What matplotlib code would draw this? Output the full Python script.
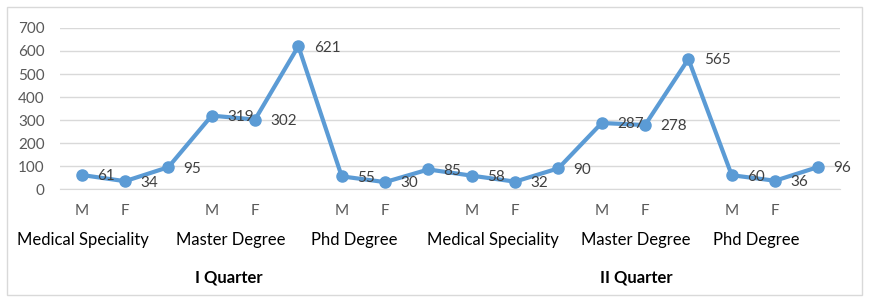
import matplotlib.pyplot as plt
from matplotlib import transforms
from matplotlib.patches import Rectangle

# ---------------------------------------------------------
# data
# ---------------------------------------------------------
values = [61, 34, 95, 319, 302, 621, 55, 30, 85,
          58, 32, 90, 287, 278, 565, 60, 36, 96]
sex_labels = ["M", "F", "", "M", "F", "", "M", "F", "",
              "M", "F", "", "M", "F", "", "M", "F", ""]
degrees = ["Medical Speciality", "Master Degree", "Phd Degree",
           "Medical Speciality", "Master Degree", "Phd Degree"]
quarters = ["I Quarter", "II Quarter"]
y_ticks = [0, 100, 200, 300, 400, 500, 600, 700]

# label positions (category units)
degree_pos = [0.03, 3.45, 6.28, 9.49, 12.79, 15.56]
quarter_pos = [3.4, 12.79]

plt.rcParams['font.family'] = ['Lato', 'DejaVu Sans']

fig = plt.figure(figsize=(8.7, 3.03), dpi=100)
ax = fig.add_axes([0.069, 0.3762, 0.8966, 0.5314])

x = list(range(len(values)))
ax.plot(x, values, color='#5B9BD5', linewidth=3, marker='o',
        markersize=8, zorder=3)

for xi, v in zip(x, values):
    ax.annotate(str(v), (xi, v), xytext=(11, -1), textcoords='offset points',
                ha='left', va='center', fontsize=11, color='#404040', zorder=4)

ax.set_xlim(-0.5, len(values) - 0.5)
ax.set_ylim(0, 700)
ax.set_yticks(y_ticks)
ax.set_xticks([])
ax.tick_params(axis='y', length=0, pad=11, labelsize=11, labelcolor='#595959')
ax.grid(axis='y', color='#D9D9D9', linewidth=1)
ax.set_axisbelow(True)
for s in ['top', 'right', 'left']:
    ax.spines[s].set_visible(False)
ax.spines['bottom'].set_color('#D9D9D9')

# multi-level category labels
tr = transforms.blended_transform_factory(ax.transData, fig.transFigure)
for xi, lab in zip(x, sex_labels):
    if lab:
        ax.text(xi, 0.3036, lab, transform=tr, ha='center', va='center',
                fontsize=11, color='#595959')
for xp, lab in zip(degree_pos, degrees):
    ax.text(xp, 0.208, lab, transform=tr, ha='center', va='center',
            fontsize=12, color='black')
for xp, lab in zip(quarter_pos, quarters):
    ax.text(xp, 0.0858, lab, transform=tr, ha='center', va='center',
            fontsize=12, fontweight='bold', color='black')

# chart border
fig.patches.append(Rectangle((7 / 870, 8 / 303), 855 / 870, 288 / 303,
                             transform=fig.transFigure, fill=False,
                             edgecolor='#D9D9D9', linewidth=1))

fig.savefig("out.png", dpi=100)
